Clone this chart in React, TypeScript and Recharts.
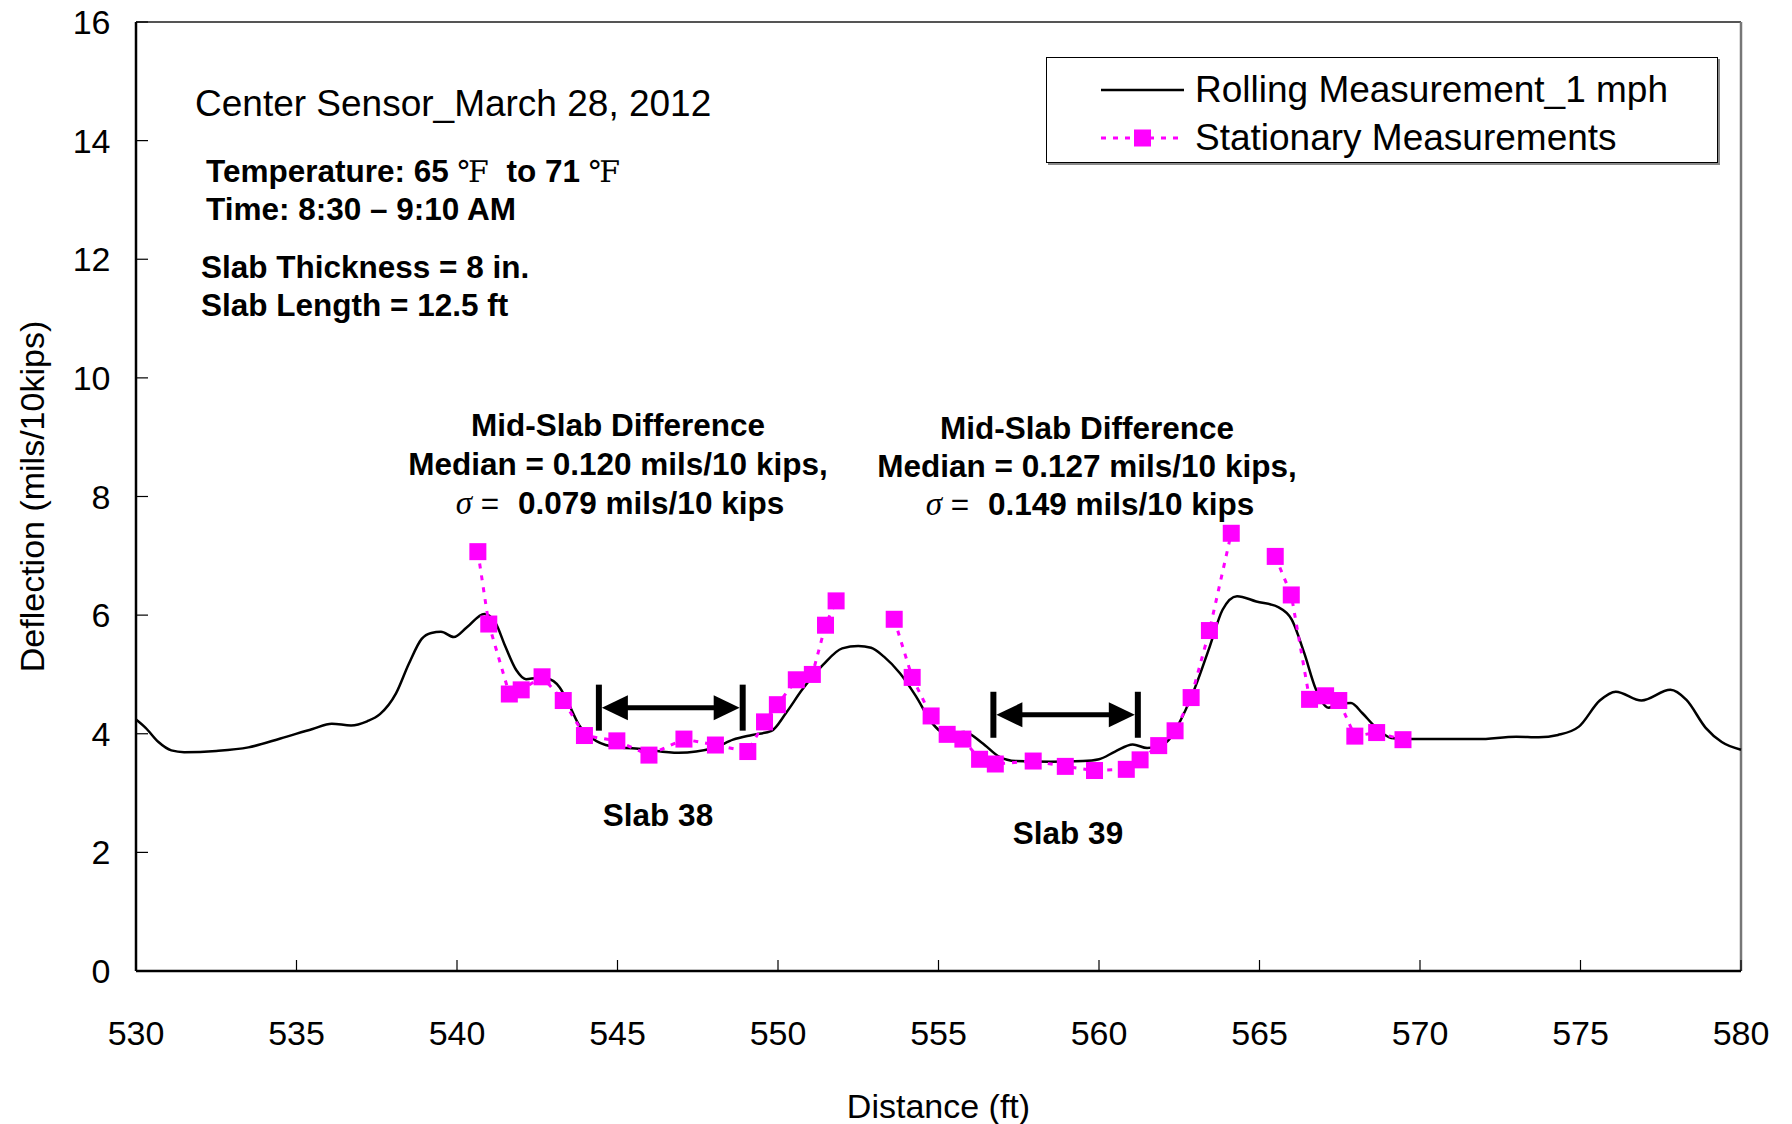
import React from "react";
import { LineChart, Line, XAxis, YAxis, ReferenceLine, Legend, Label } from "recharts";

const FONT = '"Liberation Sans", Arial, Helvetica, sans-serif';
const SERIF = '"Liberation Serif", "Times New Roman", serif';
const MAGENTA = "#FF00FF";

// Rolling deflection trace at 1 mph (distance in ft, deflection in mils/10 kips)
const rollingDistance = [
  530.0, 530.3, 530.7, 531.1, 531.5, 532.5, 533.5, 534.5, 535.5, 536.1, 536.7, 537.2, 537.6,
  538.1, 538.5, 538.9, 539.2, 539.5, 539.9, 540.3, 540.85, 541.2, 541.5, 541.85, 542.15, 542.5,
  542.8, 543.2, 543.5, 543.8, 544.2, 544.8, 545.8, 546.9, 548.0, 548.6, 549.2, 549.8, 550.25,
  550.75, 551.4, 552.0, 552.5, 552.9, 553.3, 553.8, 554.3, 554.8, 555.2, 555.8, 556.35, 556.9,
  557.4, 558.5, 559.5, 560.0, 560.5, 561.05, 561.5, 562.05, 562.6, 563.0, 563.45, 563.85, 564.3,
  564.9, 565.6, 566.0, 566.4, 566.75, 567.15, 567.5, 567.85, 568.2, 568.6, 569.1, 569.7, 570.5,
  571.8, 573.0, 573.7, 574.3, 574.95, 575.6, 576.1, 576.9, 577.8, 578.3, 578.9, 579.4, 580.0,
];
const rollingDeflection = [
  4.24, 4.1, 3.86, 3.72, 3.69, 3.71, 3.77, 3.92, 4.08, 4.17, 4.14, 4.21, 4.33,
  4.68, 5.18, 5.6, 5.7, 5.72, 5.63, 5.79, 6.02, 5.87, 5.48, 5.07, 4.92, 4.94,
  4.93, 4.78, 4.48, 4.15, 3.93, 3.79, 3.74, 3.68, 3.76, 3.9, 3.98, 4.05, 4.35,
  4.74, 5.16, 5.44, 5.48, 5.45, 5.3, 5.02, 4.63, 4.18, 4.01, 4.03, 3.85, 3.61,
  3.54, 3.53, 3.54, 3.57, 3.7, 3.82, 3.76, 3.84, 4.29, 4.79, 5.47, 6.09, 6.32,
  6.23, 6.13, 5.93, 5.35, 4.76, 4.44, 4.5, 4.52, 4.35, 4.12, 3.93, 3.91, 3.91,
  3.91, 3.95, 3.94, 3.98, 4.12, 4.56, 4.71, 4.56, 4.74, 4.57, 4.1, 3.86, 3.73,
];

// Stationary readings; each null leaves a break in the dotted line
const stationaryDistance = [
  540.65, 540.99, 541.63, 542.0, 542.65, 543.31, 543.97, 544.98, 545.98, 547.07, 548.05, 549.06,
  549.58, 549.98, 550.57, 551.07, 551.48, 551.81, 552.7,
  553.62, 554.18, 554.77, 555.27, 555.76, 556.28, 556.77, 557.95, 558.95, 559.86, 560.85, 561.28,
  561.86, 562.37, 562.87, 563.44, 564.12, 564.8, 565.49, 565.99, 566.56, 567.06, 567.47, 567.97,
  568.65, 569.47,
];
const stationaryDeflection: (number | null)[] = [
  7.07, 5.85, 4.67, 4.74, 4.96, 4.56, 3.97, 3.88, 3.64, 3.91, 3.81, 3.7,
  4.2, 4.49, 4.91, 5.0, 5.83, 6.24, null,
  5.93, 4.95, 4.3, 3.99, 3.91, 3.57, 3.49, 3.54, 3.45, 3.38, 3.4, 3.56,
  3.8, 4.05, 4.61, 5.74, 7.38, null, 6.99, 6.34, 4.58, 4.64, 4.56, 3.96,
  4.02, 3.9,
];

const xTicks = [530, 535, 540, 545, 550, 555, 560, 565, 570, 575, 580];
const yTicks = [0, 2, 4, 6, 8, 10, 12, 14, 16];

// Mid-slab spans marked with double-headed arrows
const spanStart = [544.42, 556.71];
const spanEnd = [548.9, 561.21];
const spanLevel = [4.44, 4.32];

const rolling = rollingDistance.map((x, i) => ({ x, y: rollingDeflection[i] }));
const stationary = stationaryDistance.map((x, i) => ({ x, y: stationaryDeflection[i] }));

const SquareDot = (props: any) => {
  const { cx, cy, index } = props;
  if (cx == null || cy == null || Number.isNaN(cy)) return <g key={`sq-${index}`} />;
  return <rect key={`sq-${index}`} x={cx - 8.5} y={cy - 8.5} width={17} height={17} fill={MAGENTA} />;
};

const SpanArrow = (props: any) => {
  const { x1, y1, x2, y2 } = props;
  const bar = 23;
  const head = 26;
  const half = 12.5;
  const l = x1 + 3;
  const r = x2 - 3;
  return (
    <g>
      <line x1={x1} y1={y1 - bar} x2={x1} y2={y1 + bar} stroke="#000" strokeWidth={6} />
      <line x1={x2} y1={y2 - bar} x2={x2} y2={y2 + bar} stroke="#000" strokeWidth={6} />
      <line x1={l + head - 1} y1={y1} x2={r - head + 1} y2={y2} stroke="#000" strokeWidth={5} />
      <polygon points={`${l},${y1} ${l + head},${y1 - half} ${l + head},${y1 + half}`} fill="#000" />
      <polygon points={`${r},${y2} ${r - head},${y2 - half} ${r - head},${y2 + half}`} fill="#000" />
    </g>
  );
};

const renderLegend = (props: any) => {
  const payload = props.payload || [];
  return (
    <div
      style={{
        width: 672,
        height: 106,
        boxSizing: "border-box",
        border: "1.5px solid #000",
        boxShadow: "2px 2px 0 #8a8a8a",
        background: "#fff",
        position: "relative",
        fontFamily: FONT,
        fontSize: 37,
        color: "#000",
      }}
    >
      {payload.map((entry: any, i: number) => {
        const dotted = entry.value === "Stationary Measurements";
        return (
          <div key={entry.value} style={{ position: "absolute", left: 0, top: 8 + i * 48, height: 48, width: "100%" }}>
            <svg width={83} height={48} style={{ position: "absolute", left: 54, top: 0 }}>
              {dotted ? (
                <>
                  <line x1={0} y1={24} x2={83} y2={24} stroke={MAGENTA} strokeWidth={3} strokeDasharray="5 7" />
                  <rect x={33} y={15.5} width={17} height={17} fill={MAGENTA} />
                </>
              ) : (
                <line x1={0} y1={24} x2={83} y2={24} stroke="#000" strokeWidth={2.5} />
              )}
            </svg>
            <span style={{ position: "absolute", left: 148, top: 0, lineHeight: "48px", whiteSpace: "nowrap" }}>
              {entry.value}
            </span>
          </div>
        );
      })}
    </div>
  );
};

// Text placed by the vertical centre of its capitals
const Note = ({ x, y, size, bold, center, children }: any) => (
  <div
    style={{
      position: "absolute",
      left: x,
      top: y - 0.49 * size,
      fontSize: size,
      lineHeight: `${size}px`,
      fontFamily: FONT,
      fontWeight: bold ? 700 : 400,
      whiteSpace: "nowrap",
      color: "#000",
      transform: center ? "translateX(-50%)" : undefined,
    }}
  >
    {children}
  </div>
);

const Deg = () => (
  <span style={{ fontFamily: '"DejaVu Serif", "Noto Sans CJK JP", serif', fontWeight: 400, fontSize: 30 }}>℉</span>
);

const Sigma = ({ value }: { value: string }) => (
  <>
    <span style={{ fontFamily: SERIF, fontStyle: "italic", fontWeight: 400, fontSize: 33 }}>σ</span>
    <span style={{ fontWeight: 400 }}> = </span>
    <span style={{ marginLeft: 10 }}>{value}</span>
  </>
);

const tickStyle = { fill: "#000", fontSize: 34, fontFamily: FONT };

export default function App() {
  return (
    <div style={{ position: "relative", width: 1792, height: 1124, background: "#fff" }}>
      <style>{"body{margin:0;background:#fff}"}</style>
      <LineChart width={1792} height={1124} margin={{ top: 22, right: 51, bottom: 0, left: 0 }}>
        <XAxis
          type="number"
          dataKey="x"
          domain={[530, 580]}
          ticks={xTicks}
          interval={0}
          height={153}
          tickSize={-11}
          tickMargin={60.6}
          tick={tickStyle}
          axisLine={{ stroke: "#000", strokeWidth: 2.5 }}
          tickLine={{ stroke: "#000", strokeWidth: 1.2 }}
        >
          <Label
            value="Distance (ft)"
            position="insideBottom"
            offset={6}
            style={{ fontSize: 34, fontFamily: FONT, fill: "#000" }}
          />
        </XAxis>
        <YAxis
          type="number"
          domain={[0, 16]}
          ticks={yTicks}
          interval={0}
          width={136}
          tickSize={-12}
          tickMargin={37.5}
          tick={tickStyle}
          axisLine={{ stroke: "#000", strokeWidth: 2.5 }}
          tickLine={{ stroke: "#000", strokeWidth: 1.2 }}
        >
          <Label
            value="Deflection (mils/10kips)"
            angle={-90}
            position="insideLeft"
            offset={32}
            style={{ textAnchor: "middle", fontSize: 34, fontFamily: FONT, fill: "#000" }}
          />
        </YAxis>
        <ReferenceLine y={16} stroke="#555" strokeWidth={2} />
        <ReferenceLine x={580} stroke="#777" strokeWidth={2.5} />
        {spanStart.map((s, i) => (
          <ReferenceLine
            key={`span-${i}`}
            segment={[
              { x: s, y: spanLevel[i] },
              { x: spanEnd[i], y: spanLevel[i] },
            ]}
            shape={SpanArrow}
          />
        ))}
        <Line
          data={rolling}
          dataKey="y"
          name="Rolling Measurement_1 mph"
          type="monotone"
          stroke="#000"
          strokeWidth={2.5}
          dot={false}
          activeDot={false}
          isAnimationActive={false}
        />
        <Line
          data={stationary}
          dataKey="y"
          name="Stationary Measurements"
          type="linear"
          stroke={MAGENTA}
          strokeWidth={3}
          strokeDasharray="5 7"
          dot={SquareDot}
          activeDot={false}
          isAnimationActive={false}
        />
        <Legend
          layout="vertical"
          align="center"
          verticalAlign="middle"
          wrapperStyle={{ left: 1046, top: 57, width: 672, height: 106 }}
          content={renderLegend}
        />
      </LineChart>

      <Note x={195} y={103} size={37}>Center Sensor_March 28, 2012</Note>
      <Note x={206} y={171} size={31.5} bold>
        Temperature: 65 <Deg />&nbsp; to 71 <Deg />
      </Note>
      <Note x={206} y={209} size={31.5} bold>Time: 8:30 – 9:10 AM</Note>
      <Note x={201} y={267} size={31.5} bold>Slab Thickness = 8 in.</Note>
      <Note x={201} y={305} size={31.5} bold>Slab Length = 12.5 ft</Note>

      <Note x={618} y={425} size={31.5} bold center>Mid-Slab Difference</Note>
      <Note x={618} y={464} size={31.5} bold center>Median = 0.120 mils/10 kips,</Note>
      <Note x={620} y={503} size={31.5} bold center><Sigma value="0.079 mils/10 kips" /></Note>

      <Note x={1087} y={428.6} size={31.5} bold center>Mid-Slab Difference</Note>
      <Note x={1087} y={466.3} size={31.5} bold center>Median = 0.127 mils/10 kips,</Note>
      <Note x={1090} y={504} size={31.5} bold center><Sigma value="0.149 mils/10 kips" /></Note>

      <Note x={658} y={815} size={31.5} bold center>Slab 38</Note>
      <Note x={1068} y={833} size={31.5} bold center>Slab 39</Note>
    </div>
  );
}
